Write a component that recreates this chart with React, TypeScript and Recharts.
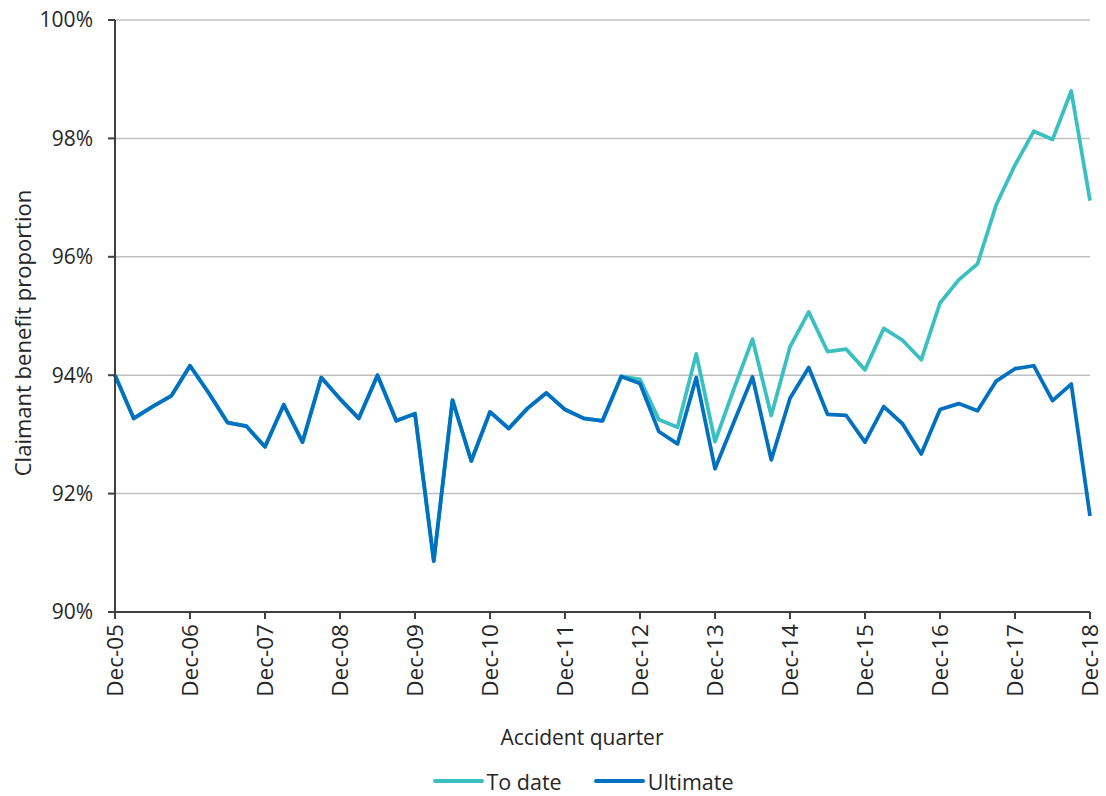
import React from "react";
import {
  LineChart,
  Line,
  XAxis,
  YAxis,
  CartesianGrid,
  Legend,
} from "recharts";

// Quarter labels, Dec-05 .. Dec-18
const months = ["Dec", "Mar", "Jun", "Sep"];
const quarters: string[] = [];
for (let i = 0; i <= 52; i++) {
  const m = months[i % 4];
  const yr = 5 + Math.ceil(i / 4);
  quarters.push(`${m}-${String(yr).padStart(2, "0")}`);
}

// Claimant benefit proportion (%), ultimate projection
const ultimate = [
  94.0, 93.27, 93.47, 93.65, 94.16, 93.7, 93.2, 93.14, 92.79, 93.5, 92.87,
  93.96, 93.6, 93.27, 94.0, 93.23, 93.35, 90.86, 93.58, 92.55, 93.38, 93.1,
  93.44, 93.7, 93.42, 93.27, 93.23, 93.98, 93.86, 93.05, 92.84, 93.96, 92.42,
  93.2, 93.97, 92.57, 93.61, 94.13, 93.34, 93.32, 92.87, 93.47, 93.18, 92.67,
  93.42, 93.52, 93.4, 93.9, 94.11, 94.16, 93.57, 93.85, 91.62,
];

// Claimant benefit proportion (%), to date
const toDate = [
  94.0, 93.27, 93.47, 93.65, 94.16, 93.7, 93.2, 93.14, 92.79, 93.5, 92.87,
  93.96, 93.6, 93.27, 94.0, 93.23, 93.35, 90.86, 93.58, 92.55, 93.38, 93.1,
  93.44, 93.7, 93.42, 93.27, 93.23, 93.98, 93.93, 93.25, 93.12, 94.36, 92.88,
  93.76, 94.61, 93.32, 94.48, 95.07, 94.4, 94.44, 94.09, 94.79, 94.59, 94.26,
  95.22, 95.61, 95.88, 96.88, 97.55, 98.12, 97.98, 98.8, 96.95,
];

const yTicks = [90, 92, 94, 96, 98, 100];

const data = quarters.map((q, i) => ({
  quarter: q,
  toDate: toDate[i],
  ultimate: ultimate[i],
}));

const FONT = "'Open Sans', sans-serif";
const TEXT = "#262626";
const AXIS = "#404040";
const TEAL = "#3AC0C0";
const BLUE = "#0070C0";

function XTick({ x, y, payload }: any) {
  return (
    <text
      x={x}
      y={y}
      transform={`rotate(-90 ${x} ${y})`}
      textAnchor="end"
      dy="0.35em"
      fontFamily={FONT}
      fontSize={22.5}
      fill={TEXT}
    >
      {payload.value}
    </text>
  );
}

// axis title placed at a fixed spot; tx/ty/rot avoid clashing with Label props
function AxisTitle({ tx, ty, rot = 0, size = 21, text }: any) {
  return (
    <text
      x={tx}
      y={ty}
      transform={rot ? `rotate(${rot} ${tx} ${ty})` : undefined}
      textAnchor="middle"
      dy="0.35em"
      fontFamily={FONT}
      fontSize={size}
      fill={TEXT}
    >
      {text}
    </text>
  );
}

function LegendContent({ payload }: any) {
  return (
    <div
      style={{
        height: 30,
        display: "flex",
        justifyContent: "center",
        alignItems: "center",
        paddingLeft: 76,
        boxSizing: "border-box",
        fontFamily: FONT,
        fontSize: 21.5,
        color: TEXT,
      }}
    >
      {(payload || []).map((entry: any, i: number) => (
        <div
          key={entry.value}
          style={{ display: "flex", alignItems: "center", marginLeft: i ? 32 : 0 }}
        >
          <span
            style={{
              display: "inline-block",
              width: 51,
              height: 4,
              borderRadius: 2,
              background: entry.color,
              marginRight: 3,
            }}
          />
          <span>{entry.value}</span>
        </div>
      ))}
    </div>
  );
}

export default function App() {
  return (
    <div style={{ position: "fixed", left: 0, top: 0, background: "#fff" }}>
      <LineChart
        width={1106}
        height={796}
        data={data}
        margin={{ top: 20, right: 16, bottom: 0, left: 0 }}
      >
        <CartesianGrid vertical={false} stroke="#C0C0C0" strokeWidth={1.5} />
        <XAxis
          dataKey="quarter"
          interval={3}
          height={154}
          tickSize={7}
          tickMargin={5}
          axisLine={{ stroke: AXIS, strokeWidth: 2 }}
          tickLine={{ stroke: AXIS, strokeWidth: 2 }}
          tick={<XTick />}
          label={<AxisTitle tx={582} ty={738} text="Accident quarter" />}
        />
        <YAxis
          width={115}
          domain={[90, 100]}
          ticks={yTicks}
          tickFormatter={(v: number) => `${v}%`}
          tickSize={7}
          tickMargin={15}
          axisLine={{ stroke: AXIS, strokeWidth: 2 }}
          tickLine={{ stroke: AXIS, strokeWidth: 2 }}
          tick={{ fontFamily: FONT, fontSize: 21, fill: TEXT }}
          label={
            <AxisTitle
              tx={23}
              ty={333}
              rot={-90}
              size={22}
              text="Claimant benefit proportion"
            />
          }
        />
        <Legend verticalAlign="bottom" content={<LegendContent />} />
        <Line
          type="linear"
          dataKey="toDate"
          name="To date"
          stroke={TEAL}
          strokeWidth={3.75}
          strokeLinejoin="round"
          dot={false}
          isAnimationActive={false}
        />
        <Line
          type="linear"
          dataKey="ultimate"
          name="Ultimate"
          stroke={BLUE}
          strokeWidth={3.75}
          strokeLinejoin="round"
          dot={false}
          isAnimationActive={false}
        />
      </LineChart>
    </div>
  );
}
